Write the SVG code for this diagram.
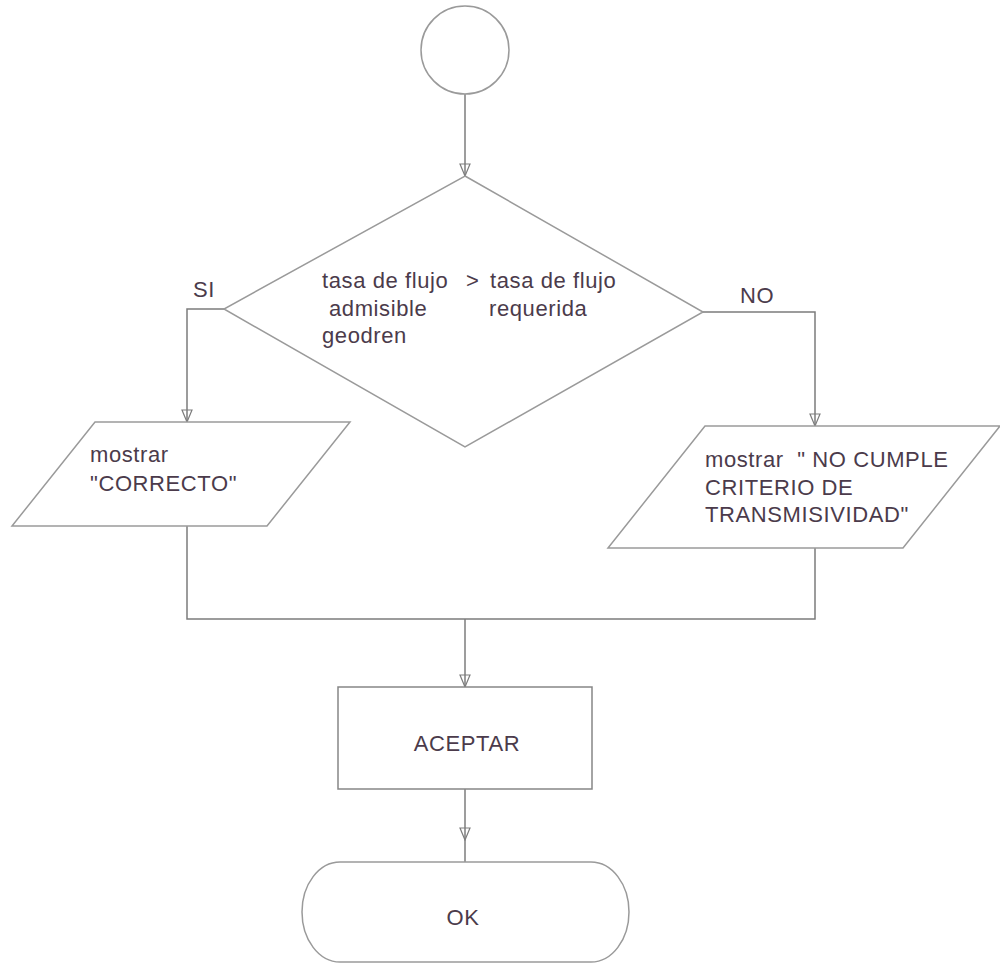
<svg xmlns="http://www.w3.org/2000/svg" width="1000" height="965" viewBox="0 0 1000 965">
  <style>
    .shape { fill: #ffffff; stroke: #9a9a9a; stroke-width: 1.5; }
    .box { fill: #ffffff; stroke: #868686; stroke-width: 1.5; }
    .line { fill: none; stroke: #7c7c7c; stroke-width: 1.5; }
    .txt { font-family: "Liberation Sans", Arial, sans-serif; font-size: 22px; fill: #4b3b4b; letter-spacing: 0.6px; }
  </style>
  <defs>
    <marker id="arrow" viewBox="0 0 14 12" markerWidth="14" markerHeight="12" refX="13" refY="6" orient="auto" markerUnits="userSpaceOnUse">
      <path d="M1,1 L13,6 L1,11 Z" fill="none" stroke="#7c7c7c" stroke-width="1.2"/>
    </marker>
  </defs>
  <rect width="1000" height="965" fill="#ffffff"/>

  <!-- connectors -->
  <g id="connectors">
    <path class="line" d="M465,94 L465,176" marker-end="url(#arrow)"/>
    <path class="line" d="M224,309 L187,309 L187,422" marker-end="url(#arrow)"/>
    <path class="line" d="M703,312 L815,312 L815,426" marker-end="url(#arrow)"/>
    <path class="line" d="M187,526 L187,619 L815,619 L815,548"/>
    <path class="line" d="M465,619 L465,687" marker-end="url(#arrow)"/>
    <path class="line" d="M465,789 L465,840" marker-end="url(#arrow)"/>
    <path class="line" d="M465,840 L465,862"/>
  </g>

  <!-- start -->
  <g id="start">
    <circle class="shape" cx="465" cy="50" r="44"/>
  </g>

  <!-- decision -->
  <g id="decision">
    <polygon class="shape" points="465,176 703,312 465,447 224,309"/>
    <text class="txt" x="322" y="288">tasa de flujo</text>
    <text class="txt" x="466" y="288">&gt;</text>
    <text class="txt" x="490" y="288">tasa de flujo</text>
    <text class="txt" x="329" y="316">admisible</text>
    <text class="txt" x="489" y="316">requerida</text>
    <text class="txt" x="322" y="343">geodren</text>
  </g>

  <g id="label-si">
    <text class="txt" x="193" y="297">SI</text>
  </g>
  <g id="label-no">
    <text class="txt" x="740" y="303">NO</text>
  </g>

  <!-- output: correct -->
  <g id="out-correcto">
    <polygon class="shape" points="95,422 350,422 267,526 12,526"/>
    <text class="txt" x="90" y="462">mostrar</text>
    <text class="txt" x="90" y="491">"CORRECTO"</text>
  </g>

  <!-- output: not compliant -->
  <g id="out-no-cumple">
    <polygon class="shape" points="705,426 1000,426 903,548 608,548"/>
    <text class="txt" x="705" y="467" xml:space="preserve">mostrar  " NO CUMPLE</text>
    <text class="txt" x="705" y="495">CRITERIO DE</text>
    <text class="txt" x="705" y="522">TRANSMISIVIDAD"</text>
  </g>

  <!-- process -->
  <g id="aceptar">
    <rect class="box" x="338" y="687" width="254" height="102"/>
    <text class="txt" x="467" y="751" text-anchor="middle">ACEPTAR</text>
  </g>

  <!-- terminal -->
  <g id="ok">
    <rect class="shape" x="302" y="862" width="327" height="100" rx="38" ry="50"/>
    <text class="txt" x="463" y="925" text-anchor="middle">OK</text>
  </g>
</svg>
